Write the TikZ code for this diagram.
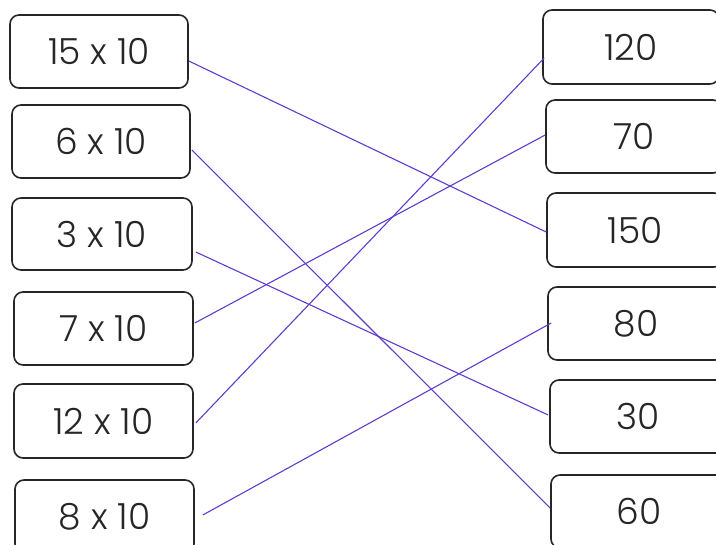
\documentclass[tikz,border=0pt]{standalone}
\usepackage{fontspec}
\setmainfont{Poppins Light}
\definecolor{linkc}{RGB}{96,60,205}
\begin{document}
\begin{tikzpicture}[x=1pt,y=-1pt,
  card/.style={draw=black!85, line width=1.6pt, rounded corners=9pt, fill=white,
    minimum height=73pt, inner sep=0pt, font=\fontsize{36}{40}\selectfont, text=black!85},
  lcard/.style={card, minimum width=178pt},
  rcard/.style={card, minimum width=176pt, text depth=0pt},
  link/.style={draw=linkc, line width=1.1pt}]
\useasboundingbox (0,0) rectangle (716,545);
\clip (0,0) rectangle (716,545);
\node[lcard] (l1) at (99,51.5) {15 x 10};
\node[lcard] (l2) at (101,141.5) {6 x 10};
\node[lcard, minimum width=180pt, minimum height=72pt] (l3) at (102,234) {3 x 10};
\node[lcard, minimum width=179pt] (l4) at (103.5,328.5) {7 x 10};
\node[lcard, minimum width=179pt, minimum height=74pt] (l5) at (103.5,421) {12 x 10};
\node[lcard, minimum width=179pt] (l6) at (104.5,516.5) {8 x 10};
\node[rcard, minimum height=74pt] (r1) at (631,47) {120};
\node[rcard] (r2) at (634,136.5) {70};
\node[rcard, minimum height=74pt] (r3) at (635,230) {150};
\node[rcard] (r4) at (636,323.5) {80};
\node[rcard] (r5) at (638,416.5) {30};
\node[rcard] (r6) at (639,511.5) {60};
\draw[link] ([yshift=-9.5pt]l1.east) -- ([yshift=-2pt]r3.west);
\draw[link] ([yshift=-8.5pt,xshift=1pt]l2.east) -- ([yshift=3.5pt]r6.west);
\draw[link] ([yshift=-18pt,xshift=3pt]l3.east) -- ([yshift=1.5pt,xshift=-1pt]r5.west);
\draw[link] ([yshift=5.5pt,xshift=1pt]l4.east) -- ([yshift=1.5pt]r2.west);
\draw[link] ([yshift=-2pt,xshift=2pt]l5.east) -- ([yshift=-11pt,xshift=2pt]r1.west);
\draw[link] ([xshift=8pt,yshift=1.5pt]l6.east) -- ([xshift=4pt,yshift=0.5pt]r4.west);
\end{tikzpicture}
\end{document}
